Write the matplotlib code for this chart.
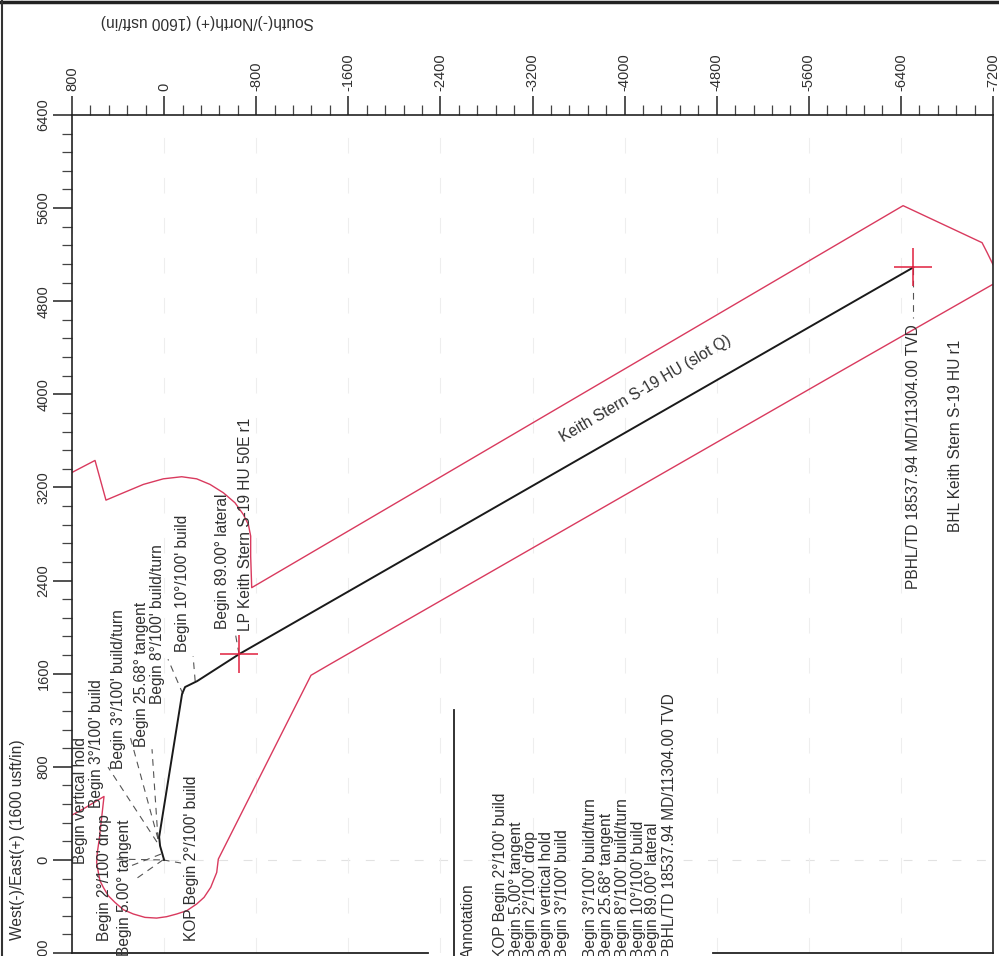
import matplotlib
matplotlib.use("Agg")
import matplotlib.pyplot as plt
from matplotlib.lines import Line2D
from matplotlib.ticker import FixedLocator, FixedFormatter

plt.rcParams["font.family"] = ["Liberation Sans", "DejaVu Sans"]
plt.rcParams["axes.unicode_minus"] = False

W, H = 999, 956

# Axis ticks
north_ticks = [800, 0, -800, -1600, -2400, -3200, -4000, -4800, -5600, -6400, -7200]
east_ticks = [6400, 5600, 4800, 4000, 3200, 2400, 1600, 800, 0, -800]

# Well path
path_n = [0, 35, 43, -156, -182, -287, -652, -6507]
path_e = [0, 120, 197, 1425, 1485, 1536, 1768, 5090]

# Lease / hardline boundary, lower part
low_n = [-7193, -5872, -1441, -1276, -471, -457, -428, -405, -347, -283, -196, -109, -22, 65, 166, 267,
         354, 427, 485, 528, 557, 571, 586, 580, 563, 522, 705, 800]
low_e = [4942, 4196, 1681, 1586, 7, -108, -179, -236, -322, -379, -437, -465, -488, -500, -494, -465,
         -428, -365, -308, -236, -179, -108, -22, 64, 179, 545, 436, 385]

# Boundary, upper part
up_n = [800, 600, 505, 354, 180, 7, -153, -283, -399, -515, -616, -688, -732, -752, -752, -761,
        -5871, -6419, -7105, -7149, -7200]
up_e = [3329, 3432, 3091, 3154, 3226, 3274, 3292, 3274, 3226, 3154, 3068, 2968, 2882, 2782, 2610, 2339,
        5303, 5621, 5303, 5218, 5115]

# Targets
target_n = [-652, -6507]
target_e = [1768, 5090]

# Dashed leaders (n0, n1, e0, e1)
leaders = [
    (10, -147, 0, -27),
    (10, 270, 0, -181),
    (27, 314, 50, -61),
    (36, 444, 0, 7),
    (62, 487, 153, 797),
    (53, 296, 180, 1063),
    (53, 105, 180, 951),
    (-164, -34, 1424, 1724),
    (-270, -252, 1535, 1749),
    (-651, -617, 1767, 1955),
    (-6506, -6506, 5089, 4659),
]

# Labels on the plot: text, north, east
plot_labels = [
    ("Begin vertical hold", 727, -34),
    ("Begin 2°/100' drop", 520, -700),
    ("Begin 3°/100' build", 590, 450),
    ("Begin 5.00° tangent", 345, -830),
    ("Begin 3°/100' build/turn", 400, 780),
    ("Begin 25.68° tangent", 195, 970),
    ("Begin 8°/100' build/turn", 55, 1340),
    ("KOP Begin 2°/100' build", -235, -700),
    ("Begin 10°/100' build", -160, 1785),
    ("Begin 89.00° lateral", -510, 1985),
    ("LP Keith Stern S-19 HU 50E r1", -704, 1965),
    ("PBHL/TD 18537.94 MD/11304.00 TVD", -6510, 2325),
    ("BHL Keith Stern S-19 HU r1", -6875, 2815),
]

# Annotation table rows: text and column position in pixels
table_rows = [
    ("Annotation", 468),
    ("KOP Begin 2°/100' build", 501),
    ("Begin 5.00° tangent", 516),
    ("Begin 2°/100' drop", 531),
    ("Begin vertical hold", 546),
    ("Begin 3°/100' build", 562),
    ("Begin 3°/100' build/turn", 591),
    ("Begin 25.68° tangent", 607),
    ("Begin 8°/100' build/turn", 623),
    ("Begin 10°/100' build", 638),
    ("Begin 89.00° lateral", 653),
    ("PBHL/TD 18537.94 MD/11304.00 TVD", 669),
]

txt = "#303030"
fs = 11.2

fig = plt.figure(figsize=(W / 100, H / 100), dpi=100, facecolor="white")
ax = fig.add_axes([72 / W, 1 - 953 / H, (993 - 72) / W, (953 - 115) / H])
ax.set_xlim(800, -7200)
ax.set_ylim(-800, 6400)
ax.set_facecolor("none")

ax.xaxis.tick_top()
ax.xaxis.set_major_locator(FixedLocator(north_ticks))
ax.xaxis.set_major_formatter(FixedFormatter([str(v) for v in north_ticks]))
ax.xaxis.set_minor_locator(FixedLocator(range(-7200, 801, 160)))
ax.yaxis.set_major_locator(FixedLocator(east_ticks))
ax.yaxis.set_major_formatter(FixedFormatter([str(v) for v in east_ticks]))
ax.yaxis.set_minor_locator(FixedLocator(range(-800, 6401, 160)))
ax.tick_params(which="major", length=14, width=1.2, color="#333333", labelsize=10.5, labelcolor=txt)
ax.tick_params(which="minor", length=7, width=0.9, color="#444444")
ax.tick_params(axis="x", which="both", labelrotation=90, pad=3)
ax.tick_params(axis="y", which="both", labelrotation=90, pad=1.5)
for lab in ax.get_yticklabels():
    lab.set_va("center")

# Ghost grid left by the scan
ax.grid(axis="x", which="major", color="#eeeeee", lw=0.8, ls=(0, (14, 22)))
ax.axhline(0, color="#e2e2e2", lw=0.8, ls=(0, (8, 14)), zorder=0)
ax.set_axisbelow(True)

ax.spines["bottom"].set_visible(False)
for side in ["left", "top", "right"]:
    ax.spines[side].set_linewidth(1.2)
    ax.spines[side].set_color("#222222")

# Broken bottom rule around the annotation table
ax.plot([800, -2294], [-800, -800], color="#222222", lw=1.3, clip_on=False)
ax.plot([-4768, -7200], [-800, -800], color="#222222", lw=1.3, clip_on=False)

for n0, n1, e0, e1 in leaders:
    ax.plot([n0, n1], [e0, e1], color="#555555", lw=0.8, ls=(0, (6, 5)))

red = "#d93a5e"
ax.plot(low_n, low_e, color=red, lw=1.0)
ax.plot(up_n, up_e, color=red, lw=1.0)
ax.plot(path_n, path_e, color="#1a1a1a", lw=1.4, solid_joinstyle="round")
ax.plot(target_n, target_e, ls="none", marker="+", ms=27, mew=1.1, color="#e0203f")

for text, n, e in plot_labels:
    ax.text(n, e, text, rotation=90, ha="center", va="bottom", fontsize=fs, color=txt)

ax.text(-4178, 4050, "Keith Stern S-19 HU (slot Q)", rotation=30.5, rotation_mode="anchor",
        ha="center", va="center", fontsize=fs, color=txt)

# Axis titles, placed as on the rotated sheet
fig.text(207 / W, 1 - 22 / H, "South(-)/North(+) (1600 usft/in)", rotation=180,
         ha="center", va="center", fontsize=fs, color=txt)
fig.text(18 / W, 1 - 840 / H, "West(-)/East(+) (1600 usft/in)", rotation=90,
         ha="center", va="center", fontsize=fs, color=txt)

# Annotation table
fig.add_artist(Line2D([454 / W, 454 / W], [1 - 710 / H, 0], color="#222222", lw=1.3))
for text, x in table_rows:
    fig.text(x / W, -2 / H, text, rotation=90, ha="center", va="bottom", fontsize=fs, color=txt)

# Sheet edge from the scan
fig.add_artist(Line2D([0, 1], [1 - 1.5 / H, 1 - 1.5 / H], color="#222222", lw=2.5))
fig.add_artist(Line2D([1.5 / W, 1.5 / W], [0, 1], color="#333333", lw=1.5))

fig.savefig("out.png", dpi=100, facecolor=fig.get_facecolor())
